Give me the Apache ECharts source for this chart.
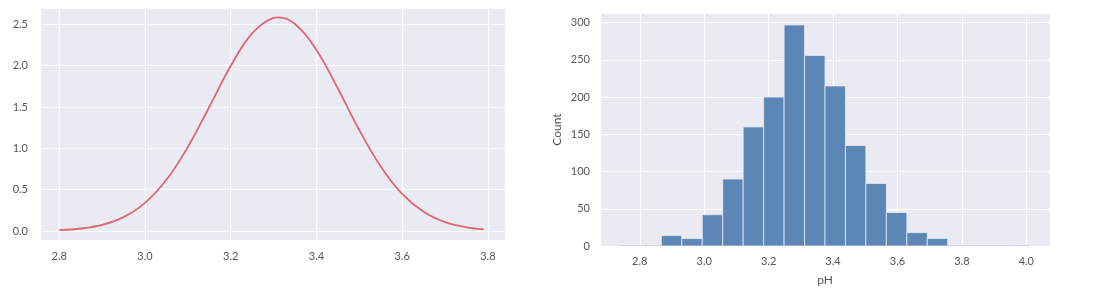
<!DOCTYPE html>
<html>
<head>
<meta charset="utf-8">
<script src="https://cdn.jsdelivr.net/npm/echarts@6/dist/echarts.min.js"></script>
<style>
html,body{margin:0;padding:0;background:#fff;}
#c{width:1097px;height:291px;}
</style>
</head>
<body>
<div id="c"></div>
<script>
// Left: density curve (pH vs density)
const curveX = [2.80,2.85,2.90,2.95,3.00,3.05,3.10,3.15,3.20,3.25,3.30,3.311,3.35,3.40,3.45,3.50,3.55,3.60,3.65,3.70,3.75,3.79];
const curveY = [0.011,0.030,0.075,0.168,0.340,0.619,1.016,1.500,1.995,2.390,2.577,2.584,2.503,2.189,1.723,1.221,0.780,0.448,0.232,0.108,0.045,0.021];
// Right: histogram of pH
const binEdges = [2.74,2.8035,2.867,2.9305,2.994,3.0575,3.121,3.1845,3.248,3.3115,3.375,3.4385,3.502,3.5655,3.629,3.6925,3.756,3.8195,3.883,3.9465,4.01];
const binCounts = [1,1,14,10,42,90,160,200,297,256,215,135,84,45,18,10,1,1,1,1];

const font = 'Lato, "DejaVu Sans", sans-serif';
const txt = '#555';
const bg = '#EAEAF2';

const curveData = curveX.map((x,i)=>[x,curveY[i]]);
const histData = binCounts.map((c,i)=>[binEdges[i],binEdges[i+1],c]);

const chart = echarts.init(document.getElementById('c'), null, {renderer:'canvas'});
const axisCommon = {
  axisLine:{show:false}, axisTick:{show:false},
  splitLine:{show:true,lineStyle:{color:'#ffffff',width:1.2}},
  axisLabel:{color:txt,fontFamily:font,fontSize:11,showMinLabel:false,showMaxLabel:false}
};
chart.setOption({
  animation:false,
  backgroundColor:'#ffffff',
  grid:[
    {left:40,right:592,top:8,bottom:51,show:true,backgroundColor:bg,borderWidth:0},
    {left:600,right:47,top:13,bottom:45,show:true,backgroundColor:bg,borderWidth:0}
  ],
  xAxis:[
    Object.assign({}, axisCommon, {type:'value',gridIndex:0,min:2.755,max:3.84,splitNumber:5,
      axisLabel:Object.assign({},axisCommon.axisLabel,{margin:11,formatter:v=>v.toFixed(1)})}),
    Object.assign({}, axisCommon, {type:'value',gridIndex:1,min:2.6765,max:4.0735,splitNumber:7,
      name:'pH',nameLocation:'middle',nameGap:28,nameTextStyle:{color:txt,fontFamily:font,fontSize:12},
      axisLabel:Object.assign({},axisCommon.axisLabel,{margin:10,formatter:v=>v.toFixed(1)})})
  ],
  yAxis:[
    Object.assign({}, axisCommon, {type:'value',gridIndex:0,min:-0.109,max:2.697,splitNumber:5,
      axisLabel:Object.assign({},axisCommon.axisLabel,{margin:12,formatter:v=>v.toFixed(1)})}),
    Object.assign({}, axisCommon, {type:'value',gridIndex:1,min:0,max:313,splitNumber:5,
      name:'Count',nameLocation:'middle',nameGap:37,nameTextStyle:{color:txt,fontFamily:font,fontSize:12},
      axisLabel:Object.assign({},axisCommon.axisLabel,{margin:10,showMinLabel:true})})
  ],
  series:[
    {type:'line',xAxisIndex:0,yAxisIndex:0,data:curveData,smooth:0.4,showSymbol:false,
      lineStyle:{color:'#E0666F',width:1.8}},
    {type:'custom',xAxisIndex:1,yAxisIndex:1,data:histData,
      encode:{x:[0,1],y:2},
      renderItem:function(params,api){
        const p0 = api.coord([api.value(0),api.value(2)]);
        const p1 = api.coord([api.value(1),0]);
        return {type:'rect',shape:{x:p0[0],y:p0[1],width:p1[0]-p0[0],height:p1[1]-p0[1]},
          style:{fill:'#5B86B5',stroke:'rgba(234,234,242,0.8)',lineWidth:1}};
      }}
  ]
});
</script>
</body>
</html>
